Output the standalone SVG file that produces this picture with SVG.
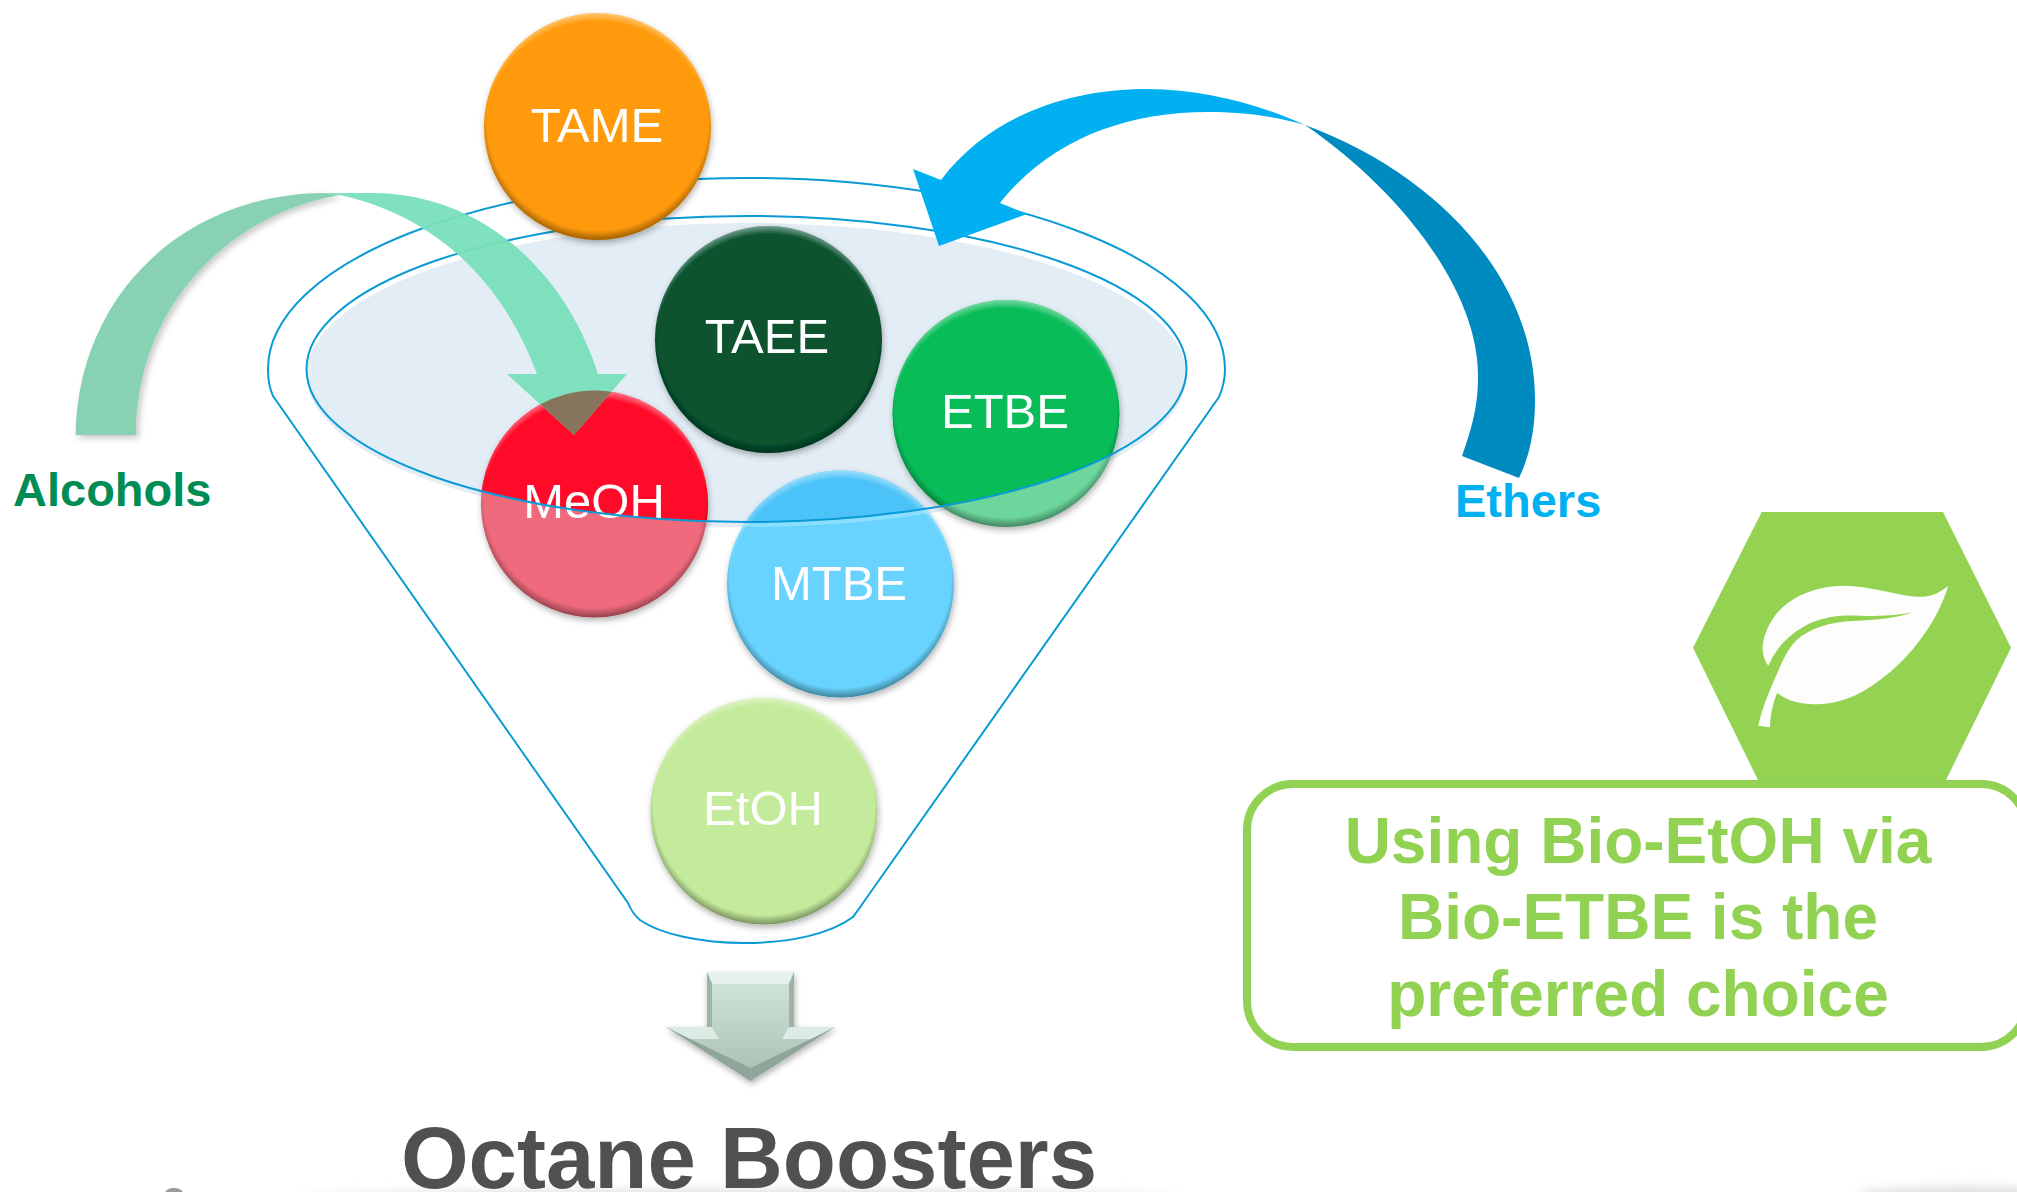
<svg xmlns="http://www.w3.org/2000/svg" width="2017" height="1192" viewBox="0 0 2017 1192">
<style>
text{font-family:"Liberation Sans",Arial,sans-serif}
.ball{font-size:49px;fill:#fff;text-anchor:middle}
.lab{font-size:47px;font-weight:bold}
.note{font-size:64px;font-weight:bold;fill:#92d252;text-anchor:middle}
.line{fill:none;stroke:#0a9ad6;stroke-width:2}
.light{fill:url(#rimLight)}
.dark{fill:url(#rimDark)}
</style>
<defs>
<radialGradient id="rimLight" cx=".5" cy=".54" r=".54"><stop offset=".93" stop-color="#fff" stop-opacity="0"/><stop offset="1" stop-color="#fff" stop-opacity=".45"/></radialGradient>
<radialGradient id="rimDark" cx=".5" cy=".47" r=".53"><stop offset=".92" stop-color="#000" stop-opacity="0"/><stop offset="1" stop-color="#000" stop-opacity=".38"/></radialGradient>
<linearGradient id="arrowFill" x1="0" y1="0" x2="0" y2="1"><stop offset="0" stop-color="#d3e7dd"/><stop offset="1" stop-color="#a9bdb2"/></linearGradient>
<filter id="shadow" x="-20%" y="-20%" width="140%" height="140%"><feDropShadow dx="1" dy="3" stdDeviation="3" flood-color="#000" flood-opacity=".3"/></filter>
<filter id="softShadow" x="-20%" y="-20%" width="140%" height="140%"><feDropShadow dx="3" dy="3" stdDeviation="3" flood-color="#000" flood-opacity=".22"/></filter>
<filter id="blur" x="-20%" y="-200%" width="140%" height="500%"><feGaussianBlur stdDeviation="6"/></filter>
<clipPath id="inner"><ellipse cx="746.5" cy="369" rx="440" ry="153"/></clipPath>
<clipPath id="fillClip"><ellipse cx="746.5" cy="375" rx="440" ry="152"/></clipPath>
<clipPath id="meohClip"><circle cx="594.5" cy="504" r="113.5"/></clipPath>
</defs>

<g id="ground-shadow">
<ellipse cx="740" cy="1201" rx="440" ry="10" fill="#d8d8d8" filter="url(#blur)"/>
<ellipse cx="1965" cy="1197" rx="110" ry="9" fill="#d8d8d8" filter="url(#blur)"/>
<ellipse cx="174" cy="1193" rx="9" ry="5" fill="#9a9a9a"/>
</g>

<g id="funnel">
<ellipse cx="746.5" cy="375" rx="440" ry="152" fill="#e3edf6"/>
<path class="line" d="M273 396C268 385 268 375 268 369C268 263 482 178 746.5 178C1011 178 1225 263 1225 369C1225 378 1223 388 1219 397L863 903C857 912 855 914 853 917C830 934 790 943 745 943C700 943 660 934 640 920C633 914 630 908 628 903Z"/>
</g>

<g id="node-taee" filter="url(#shadow)">
<circle cx="768.5" cy="339.5" r="113.5" fill="#07522f"/>
<circle cx="768.5" cy="339.5" r="113.5" class="light"/><circle cx="768.5" cy="339.5" r="113.5" class="dark"/>
<text class="ball" x="767" y="353">TAEE</text>
</g>

<g id="node-etbe">
<circle cx="1006" cy="413.5" r="113.5" fill="#6cd69c" filter="url(#shadow)"/>
<g clip-path="url(#inner)"><circle cx="1006" cy="413.5" r="113.5" fill="#08bc58"/></g>
<circle cx="1006" cy="413.5" r="113.5" class="light"/><circle cx="1006" cy="413.5" r="113.5" class="dark"/>
<text class="ball" x="1005" y="428">ETBE</text>
</g>

<g id="node-meoh">
<circle cx="594.5" cy="504" r="113.5" fill="#ee6a7b" filter="url(#shadow)"/>
<g clip-path="url(#inner)"><circle cx="594.5" cy="504" r="113.5" fill="#ff0a28"/></g>
<circle cx="594.5" cy="504" r="113.5" class="light"/><circle cx="594.5" cy="504" r="113.5" class="dark"/>
<text class="ball" x="594" y="518">MeOH</text>
</g>

<g id="node-mtbe">
<circle cx="840.5" cy="584" r="113.5" fill="#67d3fe" filter="url(#shadow)"/>
<g clip-path="url(#fillClip)"><circle cx="840.5" cy="584" r="113.5" fill="#8adffe"/></g>
<g clip-path="url(#inner)"><circle cx="840.5" cy="584" r="113.5" fill="#4cc3f8"/></g>
<circle cx="840.5" cy="584" r="113.5" class="light"/><circle cx="840.5" cy="584" r="113.5" class="dark"/>
<text class="ball" x="839" y="600">MTBE</text>
</g>

<g id="node-etoh" filter="url(#shadow)">
<circle cx="764" cy="811" r="113.5" fill="#c4ea9b"/>
<circle cx="764" cy="811" r="113.5" class="light"/><circle cx="764" cy="811" r="113.5" class="dark"/>
<text class="ball" x="763" y="825">EtOH</text>
</g>

<ellipse id="funnel-rim" class="line" cx="746.5" cy="369" rx="440" ry="153"/>

<g id="node-tame" filter="url(#shadow)">
<circle cx="597.5" cy="126.5" r="113.5" fill="#ff9a08"/>
<circle cx="597.5" cy="126.5" r="113.5" class="light"/><circle cx="597.5" cy="126.5" r="113.5" class="dark"/>
<text class="ball" x="597" y="141.5">TAME</text>
</g>

<g id="connectors">
<g id="alcohols-arrow">
<path d="M75.6 435C78 290 190 193 325 193L340 195C225 215 136 310 136 435Z" fill="#88d1b3" filter="url(#softShadow)"/>
<path d="M325 193L372 193C480 193 565 270 598 374L627 374L574 435L507 374L537 374C500 275 430 215 340 195Z" fill="#78dfba" fill-opacity=".94"/>
<path clip-path="url(#meohClip)" d="M598 374L627 374L574 435L507 374L537 374Z" fill="#86745c"/>
</g>
<g id="ethers-arrow">
<path d="M1305 125C1440 175 1535 280 1535 400C1535 430 1530 455 1519 478L1462 456C1475 420 1478 400 1478 375C1478 290 1400 190 1305 125Z" fill="#008bc0"/>
<path d="M941 180C990 115 1070 89 1147 89C1205 89 1260 105 1305 125C1270 115 1240 112 1208 112C1125 112 1050 140 1000 203L1027 214L939 246L913 169Z" fill="#00b0f0"/>
</g>
<g id="down-arrow" filter="url(#shadow)">
<path d="M707 972H794V1027H835L750.5 1081L666 1027H707Z" fill="url(#arrowFill)"/>
<path d="M707 972H794L788 984H713Z" fill="#e6f1ec"/>
<path d="M666 1027H707L712 1027L718.6 1039H690Z" fill="#dcebe4"/>
<path d="M835 1027H794L789 1027L782 1039H811Z" fill="#dcebe4"/>
<path d="M666 1027L750.5 1081L750.5 1068L690 1039Z" fill="#8fa599"/>
<path d="M835 1027L750.5 1081L750.5 1068L811 1039Z" fill="#8fa599"/>
<path d="M707 972L712 984V1027H707ZM794 972L789 984V1027H794Z" fill="#9db3a7"/>
</g>
</g>

<text id="label-alcohols" class="lab" x="13" y="506" fill="#008c55">Alcohols</text>
<text id="label-ethers" class="lab" x="1455" y="517" fill="#00b0f0">Ethers</text>

<g id="hex-leaf">
<path d="M1761.7 512H1943L2011 647.7L1945 782H1759L1693 647.7Z" fill="#94d352"/>
<path transform="translate(1620 490) scale(.3333)" fill="#fdfdfb" d="M985 288C950 315 925 322 890 320C830 317 750 287 670 287C590 288 530 315 490 350C450 385 428 440 428 475C428 495 435 515 445 527C470 470 510 430 570 400C620 378 670 375 720 377C790 380 840 375 880 367C830 385 770 390 700 393C630 396 570 415 530 450C500 480 485 520 465 565C445 610 425 660 415 707L450 712C452 670 458 640 472 608C490 625 520 640 580 643C640 645 710 625 780 570C870 505 950 400 985 288Z"/>
</g>

<g id="note-box">
<rect x="1247" y="784" width="780" height="263" rx="46" ry="46" fill="none" stroke="#92d252" stroke-width="8"/>
<text class="note" x="1638" y="862.5">Using Bio-EtOH via</text>
<text class="note" x="1638" y="939">Bio-ETBE is the</text>
<text class="note" x="1638" y="1016">preferred choice</text>
</g>

<text id="title" x="749" y="1188" font-size="87" font-weight="bold" fill="#505050" text-anchor="middle">Octane Boosters</text>
</svg>
